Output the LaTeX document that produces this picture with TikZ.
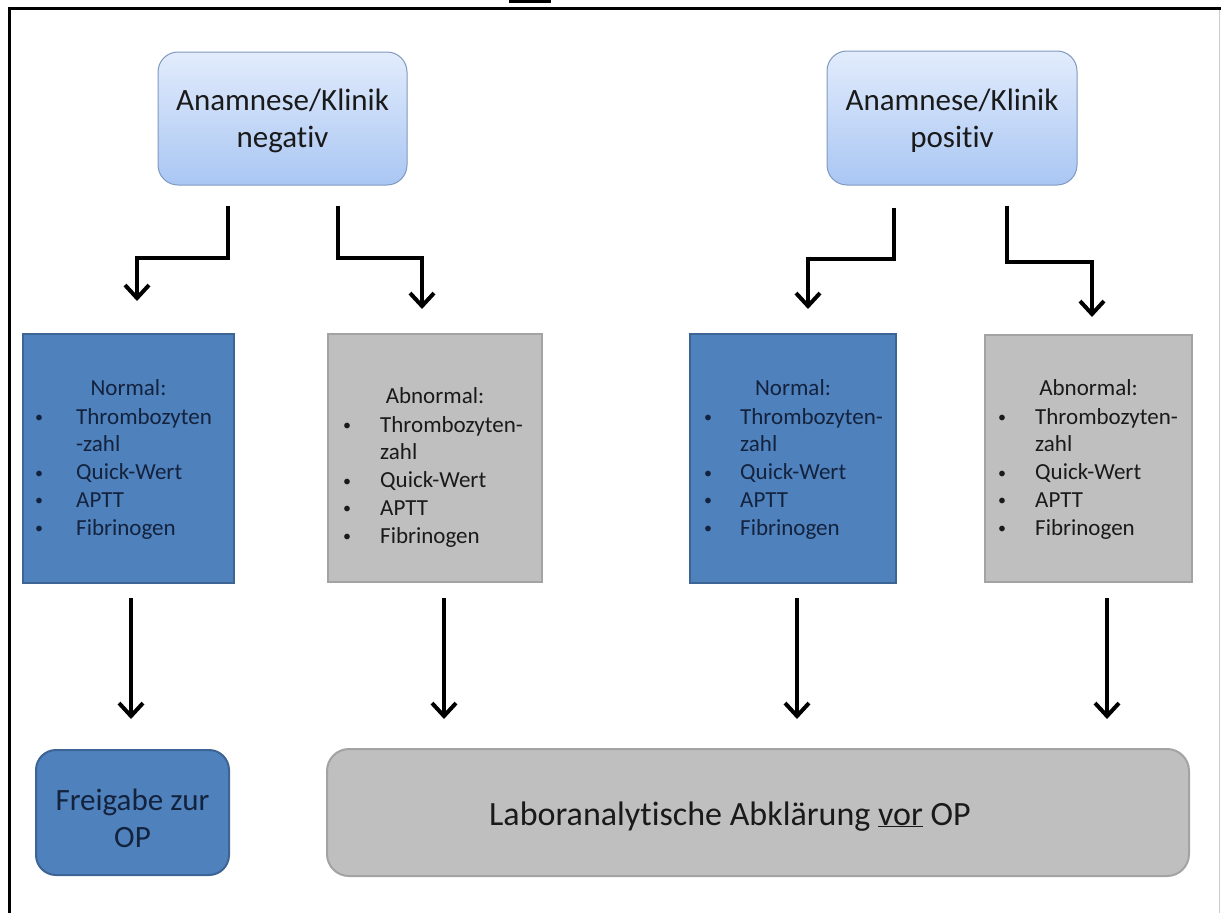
\documentclass[tikz,border=0pt]{standalone}
\usepackage{fontspec}
\setmainfont{Carlito}[Ligatures={NoCommon,NoContextual}]
\usetikzlibrary{arrows.meta}
\definecolor{bluefill}{HTML}{4F81BD}
\definecolor{blueline}{HTML}{3C6494}
\definecolor{grayfill}{HTML}{BFBFBF}
\definecolor{grayline}{HTML}{A3A3A3}
\definecolor{topA}{HTML}{E2ECFC}
\definecolor{topB}{HTML}{A9C6F3}
\definecolor{topline}{HTML}{8099C0}
\definecolor{navytext}{HTML}{13223D}
\definecolor{darktext}{HTML}{1A1A1A}
\newcommand{\smbul}{\raisebox{1.5pt}{\fontsize{16}{16}\selectfont •}}
\begin{document}
\begin{tikzpicture}[x=1pt,y=-1pt,
  topbox/.style={draw=topline, line width=1pt, rounded corners=20pt, top color=topA, bottom color=topB, inner sep=0pt},
  bluebox/.style={draw=blueline, fill=bluefill, line width=2pt, inner sep=0pt},
  graybox/.style={draw=grayline, fill=grayfill, line width=2pt, inner sep=0pt},
  bigtext/.style={font=\fontsize{31}{37}\selectfont, text=darktext, anchor=base, inner sep=0pt},
  headtext/.style={font=\fontsize{23}{27.8}\selectfont, anchor=base, inner sep=0pt},
  listtext/.style={font=\fontsize{23}{27.8}\selectfont, anchor=base west, inner sep=0pt},
  arr/.style={line width=4pt, -{Straight Barb[length=13pt,width=24pt]}}]
\useasboundingbox (0,0) rectangle (1221,913);
\fill[white] (0,0) rectangle (1221,913);
% frame
\draw[line width=3pt] (9.5,913) -- (9.5,8.5) -- (1221,8.5);
\draw[black!20, line width=1pt] (1219.5,10) -- (1219.5,913);
\fill[black] (509,0) rectangle (551,2.5);
% top boxes
\node[topbox, minimum width=249pt, minimum height=133pt] (tneg) at (282.5,118.5) {};
\node[bigtext] (tneg1) at (282.5,110) {Anamnese/Klinik};
\node[bigtext] (tneg2) at (282.5,147) {negativ};
\node[topbox, minimum width=250pt, minimum height=134pt] (tpos) at (952,118) {};
\node[bigtext] (tpos1) at (952,110) {Anamnese/Klinik};
\node[bigtext] (tpos2) at (952,147) {positiv};
% middle boxes
\node[bluebox, minimum width=211pt, minimum height=249pt] (n1) at (128.5,458.5) {};
\node[headtext, text=navytext] (n1h) at (128.5,395) {Normal:};
\node[listtext, text=navytext] (n1l) at (35,424) {\begin{tabular}[t]{@{}p{41pt}@{}l@{}}\smbul&Thrombozyten\\&-zahl\\\smbul&Quick-Wert\\\smbul&APTT\\\smbul&Fibrinogen\end{tabular}};
\node[graybox, minimum width=214pt, minimum height=248pt] (n2) at (435,458) {};
\node[headtext, text=darktext] (n2h) at (435,403) {Abnormal:};
\node[listtext, text=darktext] (n2l) at (343,432) {\begin{tabular}[t]{@{}p{37pt}@{}l@{}}\smbul&Thrombozyten-\\&zahl\\\smbul&Quick-Wert\\\smbul&APTT\\\smbul&Fibrinogen\end{tabular}};
\node[bluebox, minimum width=206pt, minimum height=249pt] (n3) at (793,458.5) {};
\node[headtext, text=navytext] (n3h) at (793,395) {Normal:};
\node[listtext, text=navytext] (n3l) at (704,424) {\begin{tabular}[t]{@{}p{36pt}@{}l@{}}\smbul&Thrombozyten-\\&zahl\\\smbul&Quick-Wert\\\smbul&APTT\\\smbul&Fibrinogen\end{tabular}};
\node[graybox, minimum width=207pt, minimum height=247pt] (n4) at (1088.5,458.5) {};
\node[headtext, text=darktext] (n4h) at (1088.5,395) {Abnormal:};
\node[listtext, text=darktext] (n4l) at (998,424) {\begin{tabular}[t]{@{}p{37pt}@{}l@{}}\smbul&Thrombozyten-\\&zahl\\\smbul&Quick-Wert\\\smbul&APTT\\\smbul&Fibrinogen\end{tabular}};
% bottom boxes
\node[bluebox, rounded corners=20pt, minimum width=193pt, minimum height=125pt] (frei) at (132.5,812.5) {};
\node[bigtext, text=navytext] (frei1) at (132.5,810) {Freigabe zur};
\node[bigtext, text=navytext] (frei2) at (132.5,847) {OP};
\node[graybox, rounded corners=22pt, minimum width=862pt, minimum height=127pt] (lab) at (758,812.5) {};
\node[bigtext, font=\fontsize{34}{40}\selectfont] (labt) at (730,825) {Laboranalytische Abklärung \underline{vor} OP};
% arrows top
\draw[arr, shorten <=20pt, shorten >=32pt] (tneg.south -| 228,0) |- (137,258) -- (n1.north -| 137,0);
\draw[arr, shorten <=20pt, shorten >=24pt] (tneg.south -| 338,0) |- (422,258) -- (n2.north -| 422,0);
\draw[arr, shorten <=22pt, shorten >=24pt] (tpos.south -| 894,0) |- (808,259) -- (n3.north -| 808,0);
\draw[arr, shorten <=20pt, shorten >=17pt] (tpos.south -| 1007,0) |- (1092,262) -- (n4.north -| 1092,0);
% arrows bottom
\draw[arr, shorten <=14pt, shorten >=30pt] (n1.south -| 131,0) -- (frei.north -| 131,0);
\draw[arr, shorten <=15pt, shorten >=29pt] (n2.south -| 444,0) -- (lab.north -| 444,0);
\draw[arr, shorten <=14pt, shorten >=29pt] (n3.south -| 797,0) -- (lab.north -| 797,0);
\draw[arr, shorten <=15pt, shorten >=29pt] (n4.south -| 1107,0) -- (lab.north -| 1107,0);
\end{tikzpicture}
\end{document}
